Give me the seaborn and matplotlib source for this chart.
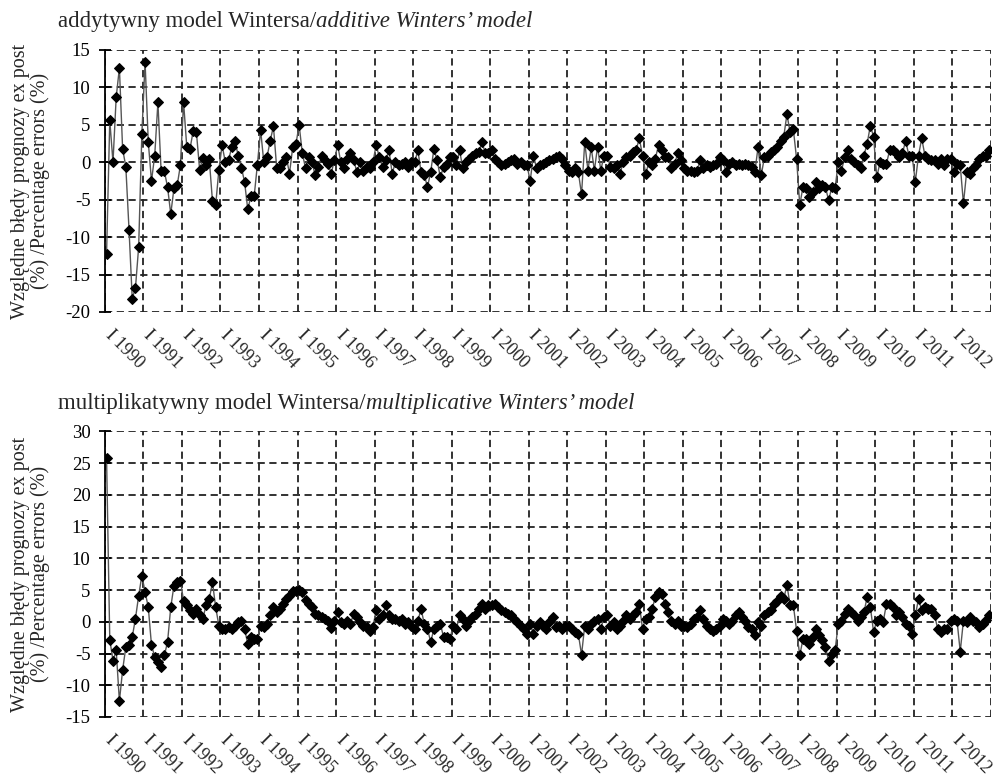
import numpy as np
import pandas as pd
import matplotlib
matplotlib.use("Agg")
import matplotlib.pyplot as plt
import matplotlib.transforms as mtransforms
import seaborn as sns

# monthly relative ex post errors (%), Jan 1990 - Dec 2012
years = list(range(1990, 2013))
year_labels = ["I " + str(y) for y in years]

additive_err = [
    -12.2, 5.6, 0.0, 8.7, 12.6, 1.8, -0.6, -9.0, -18.2, -16.8, -11.3, 3.8,   # 1990
    13.4, 2.7, -2.5, 0.9, 8.0, -1.2, -1.2, -3.3, -6.9, -3.5, -3.1, -0.4,     # 1991
    8.0, 2.0, 1.8, 4.2, 4.0, -1.0, 0.6, -0.3, 0.4, -5.2, -5.7, -1.0,         # 1992
    2.3, 0.0, 0.3, 2.0, 2.9, 0.9, -0.7, -2.6, -6.3, -4.5, -4.5, -0.3,        # 1993
    4.3, 0.0, 0.7, 2.9, 4.8, -0.7, -0.8, 0.0, 0.7, -1.5, 2.0, 2.4,           # 1994
    5.0, 1.2, -0.8, 0.7, 0.0, -1.7, -0.6, 0.9, 0.3, -0.2, -1.5, 0.3,         # 1995
    2.3, 0.0, -0.8, 0.5, 1.2, 0.3, -1.3, 0.0, -1.1, -0.6, -0.8, 0.0,         # 1996
    2.3, 0.7, -0.6, 0.3, 1.6, -1.5, 0.0, -0.4, -0.2, 0.0, -0.6, 0.0,         # 1997
    0.0, 1.6, -1.3, -1.7, -3.3, -1.3, 1.8, 0.3, -2.0, -0.6, -0.2, 0.7,       # 1998
    0.7, -0.4, 1.6, -0.8, 0.0, 0.5, 0.9, 1.2, 1.4, 2.7, 1.2, 1.2,            # 1999
    1.6, 0.5, 0.0, -0.4, -0.2, 0.0, 0.3, 0.5, -0.2, 0.0, -0.4, -0.4,         # 2000
    -2.5, 0.9, -0.8, -0.4, -0.2, 0.0, 0.3, 0.5, 0.7, 0.9, 0.5, -0.4,         # 2001
    -1.1, -1.3, -0.8, -1.3, -4.3, 2.7, -1.1, 2.0, -1.1, 2.1, -1.1, 0.9,      # 2002
    0.9, -0.6, -0.8, -0.4, -1.5, 0.0, 0.7, 0.9, 1.4, 1.6, 3.2, 0.9,          # 2003
    -1.5, 0.0, -0.4, 0.5, 2.3, 1.6, 0.7, 0.7, -0.8, -0.2, 1.2, 0.3,          # 2004
    -0.8, -1.1, -1.1, -1.3, -1.1, 0.3, -0.8, -0.4, -0.6, -0.4, -0.2, 0.7,    # 2005
    0.3, -1.3, -0.2, 0.0, -0.4, -0.2, -0.4, -0.2, -0.4, -0.6, -1.3, 2.0,     # 2006
    -1.7, 0.7, 0.9, 1.4, 1.6, 2.0, 2.9, 3.4, 6.4, 4.0, 4.4, 0.5,             # 2007
    -5.7, -3.3, -3.5, -4.6, -4.0, -2.6, -3.5, -3.1, -3.3, -5.1, -3.3, -3.5,  # 2008
    0.0, -1.1, 0.7, 1.6, 0.5, 0.0, -0.4, -0.8, 0.9, 2.5, 4.9, 3.4,           # 2009
    -2.0, 0.0, -0.2, -0.2, 1.6, 1.6, 1.2, 0.7, 1.2, 2.9, 0.9, 0.9,           # 2010
    -2.6, 0.9, 3.2, 0.9, 0.5, 0.3, 0.3, -0.2, 0.5, -0.4, 0.5, 0.5,           # 2011
    -1.3, -0.2, -0.4, -5.5, -1.3, -1.5, -0.8, -0.4, 0.5, 0.9, 0.9, 1.6,      # 2012
]

multiplicative_err = [
    25.8, -2.8, -6.1, -4.5, -12.5, -7.6, -4.0, -3.7, -2.4, 0.5, 4.1, 7.3,    # 1990
    4.7, 2.3, -3.7, -5.5, -6.3, -7.1, -5.3, -3.2, 2.3, 5.7, 6.2, 6.5,        # 1991
    3.3, 2.6, 1.9, 1.3, 2.0, 1.0, 0.5, 2.6, 3.6, 6.2, 2.3, -0.6,             # 1992
    -1.1, -1.1, -0.8, -1.1, -0.6, 0.0, 0.2, -1.1, -3.5, -2.4, -2.7, -2.7,    # 1993
    -0.6, -0.8, -0.3, 1.0, 2.3, 1.5, 2.0, 2.8, 3.6, 4.1, 4.9, 4.9,           # 1994
    5.0, 4.7, 3.5, 2.8, 2.4, 1.2, 1.0, 0.8, 0.5, 0.2, -0.9, 0.2,             # 1995
    1.5, 0.0, -0.3, 0.2, -0.3, 1.3, 0.7, 0.0, -0.6, -0.8, -1.4, -0.8,        # 1996
    1.8, 0.5, 1.0, 2.6, 1.0, 0.5, 0.5, 0.2, 0.5, -0.3, 0.0, -0.6,            # 1997
    -1.1, 0.2, 2.0, -0.3, -1.1, -3.2, -1.1, -0.6, -0.3, -2.4, -2.4, -2.7,    # 1998
    -0.6, -1.1, 1.0, 0.5, -0.6, 0.2, 0.7, 1.3, 2.0, 2.8, 2.0, 2.6,           # 1999
    2.6, 2.8, 2.3, 1.8, 1.5, 1.3, 1.0, 0.5, 0.0, -0.6, -1.1, -1.9,           # 2000
    -0.3, -1.9, -0.6, 0.0, -0.6, -1.1, 0.0, 0.7, -0.8, -0.6, -1.1, -0.6,     # 2001
    -0.6, -1.1, -1.6, -1.9, -5.2, -0.6, -1.1, -0.3, 0.2, 0.5, -1.1, 0.7,     # 2002
    1.0, -0.6, 0.0, -1.1, -0.6, 0.2, 1.0, 0.5, 1.0, 1.5, 2.8, -1.1,          # 2003
    0.5, 0.7, 2.0, 3.9, 4.7, 4.4, 2.8, 1.5, 0.2, -0.3, 0.2, -0.6,            # 2004
    -0.6, -0.8, -0.3, 0.5, 0.7, 1.8, 0.5, -0.6, -1.1, -1.4, -1.1, -0.6,      # 2005
    0.5, 0.2, -0.3, 0.2, 1.0, 1.5, 0.7, 0.2, -0.8, -1.1, -2.1, 0.0,          # 2006
    -0.6, 1.0, 1.5, 1.8, 2.8, 3.3, 4.1, 3.6, 5.8, 2.6, 2.6, -1.4,            # 2007
    -5.3, -2.7, -2.7, -3.5, -2.4, -1.1, -2.1, -2.9, -4.0, -6.1, -5.0, -4.5,  # 2008
    -0.3, 0.2, 1.3, 2.0, 1.5, 1.0, 0.2, 0.7, 1.5, 3.9, 2.3, -1.6,            # 2009
    0.2, 0.5, 0.0, 2.8, 2.8, 2.3, 1.0, 1.5, 0.7, -0.3, -0.6, -1.9,           # 2010
    1.0, 3.6, 1.8, 2.3, 2.0, 2.0, 1.0, -1.1, -1.6, -1.1, -1.1, 0.2,          # 2011
    0.5, 0.2, -4.7, 0.2, 0.0, 0.7, 0.2, 0.0, -0.8, -0.3, 0.3, 1.0,           # 2012
]

ylab = "Względne błędy prognozy ex post\n(%) /Percentage errors (%)"

sns.set_theme(style="white")
plt.rcParams["font.family"] = ["Liberation Serif", "DejaVu Serif"]
plt.rcParams["axes.unicode_minus"] = False

df = pd.DataFrame({
    "month": np.arange(len(additive_err)) + 0.5,
    "additive": additive_err,
    "multiplicative": multiplicative_err,
})
n_months = len(df)

fig = plt.figure(figsize=(9.93, 7.8), dpi=100)
ax1 = fig.add_axes([0.1057, 0.600, 0.892, 0.3359])
ax2 = fig.add_axes([0.1057, 0.0808, 0.892, 0.366])

panels = [
    (ax1, "additive", -20, 15, 0.9654, "addytywny model Wintersa/", "additive Winters’ model"),
    (ax2, "multiplicative", -15, 30, 0.4756, "multiplikatywny model Wintersa/", "multiplicative Winters’ model"),
]

# nudge rotated year labels so they start right under the tick
lab_shift = mtransforms.ScaledTranslation(0.09, 0.07, fig.dpi_scale_trans)

for ax, col, lo, hi, ty, pl_txt, en_txt in panels:
    sns.lineplot(data=df, x="month", y=col, ax=ax, color="#555555", lw=1.0,
                 marker="D", markersize=5, markerfacecolor="black",
                 markeredgecolor="black")
    ax.set_xlim(0, n_months)
    ax.set_ylim(lo, hi)
    ax.set_yticks(range(lo, hi + 1, 5))
    ax.set_xticks(np.arange(0, n_months + 1, 12))
    ax.set_xticklabels(year_labels + [""])
    ax.grid(True, color="#222222", linestyle=(0, (4, 2.5)), linewidth=1.3)
    for s in ["top", "right", "bottom"]:
        ax.spines[s].set_visible(False)
    ax.spines["left"].set_color("black")
    ax.spines["left"].set_linewidth(1.3)
    ax.tick_params(axis="y", direction="inout", length=9, width=1.3,
                   labelsize=13.5, pad=6, colors="black", left=True)
    ax.tick_params(axis="x", length=0, labelsize=13, pad=16)
    for lab in ax.get_xticklabels():
        lab.set_rotation(-45)
        lab.set_ha("left")
        lab.set_va("top")
        lab.set_rotation_mode("anchor")
        lab.set_transform(lab.get_transform() + lab_shift)
    ax.set_xlabel("")
    ax.set_ylabel(ylab, fontsize=14.5, linespacing=1.05)
    ax.yaxis.set_label_coords(-0.062, 0.5)

    # title: Polish part upright, English part italic
    t1 = fig.text(0.0584, ty, pl_txt, fontsize=16.5, va="baseline")
    fig.canvas.draw()
    bb = t1.get_window_extent()
    fig.text(bb.x1 / fig.bbox.width, ty, en_txt, fontsize=16.5,
             style="italic", va="baseline")

fig.savefig("out.png", dpi=100)
